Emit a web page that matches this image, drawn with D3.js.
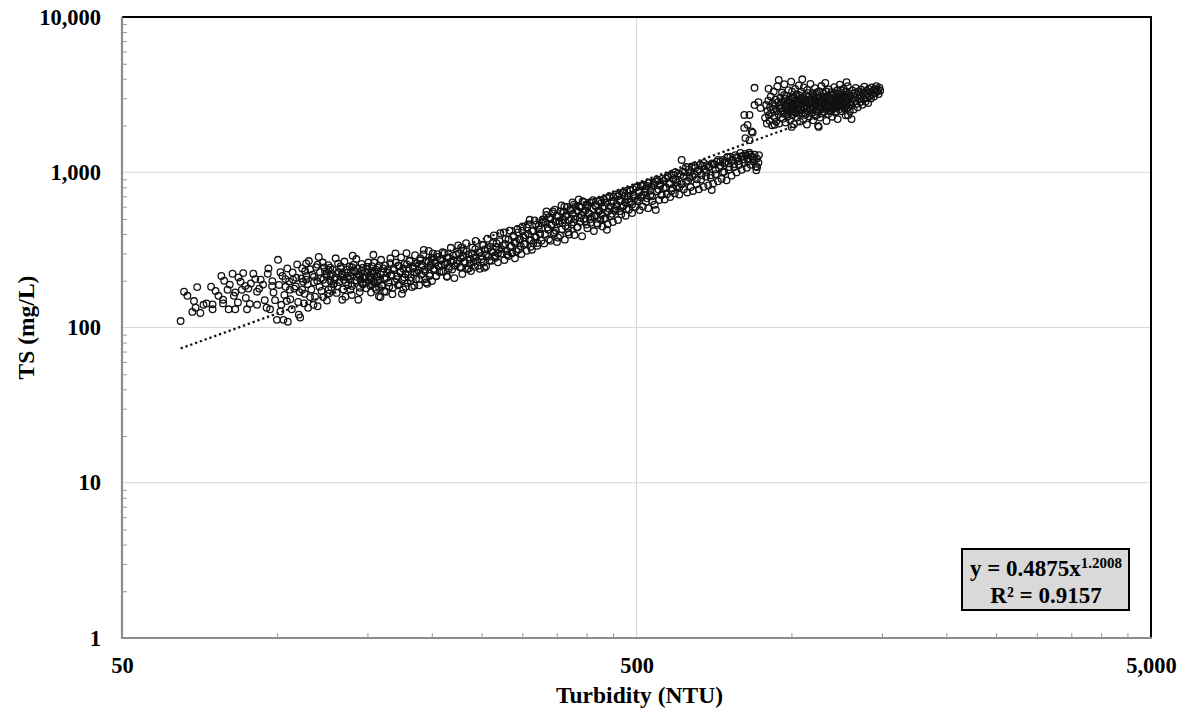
<!DOCTYPE html>
<html>
<head>
<meta charset="utf-8">
<script src="https://cdn.jsdelivr.net/npm/d3@7"></script>
<style>
  body { margin: 0; background: #fff; }
  text { font-family: "Liberation Serif", "Times New Roman", serif; font-weight: bold; fill: #000; }
</style>
</head>
<body>
<svg class="turbidity-ts-chart" width="1182" height="709"></svg>
<script>
// axis tick values (log scales)
const xTickValues = [50, 500, 5000];
const yTickValues = [1, 10, 100, 1000, 10000];
const xMinorTicks = [100, 150, 200, 250, 300, 350, 400, 450, 1000, 1500, 2000, 2500, 3000, 3500, 4000, 4500];

// power trendline shown on chart
const trendCoef = 0.4875;
const trendExp = 1.2008;
const trendLabel = 'y = 0.4875x';
const trendSup = '1.2008';
const r2Label = 'R² = 0.9157';

// [turbidity NTU, TS mg/L]
const sparseLowPoints = [
  [65,110],[66,170],[69,148],[72,140],[69.5,134],[71,124],[68.5,126],[73,143],[75,141],[75,131],
  [74.5,183],[76,172],[78.6,143],[78.6,151],[80.6,131],[83,131],[81,189],[82,222],[85,197],[86,224],
  [85.5,175],[83,168],[87,155],[87.5,131],[89,192],[90,222],[91.5,170],[91.5,140],[93,203],[94,189],
  [96,222],[95.5,134],[97,131],[98,199],[98.5,168],[100.5,273],[101.6,227],[101.6,127],[100,112],[103,112],
  [105,109],[104.5,148],[104,183],[106,175],[107.5,203],[110,146],[111,116],[112,240],[114,259],[112,175],
  [115,134],[116,157],[114,203],[120,254],[118,212],[121,183],[120,137],[123,157],[123,203],[126,236],
  [127,243],[126,175],[129,192],[132,227],[134,151],[135,203],[137,236],[139,175],[141,254],[143,212],
  [144,151],[147,243],[147,189],[150,227],[124,230],[125,215],[127,200],[128,221],[130,210],[131,185],
  [133,240],[134,218],[136,195],[137,225],[138,205],[140,185],[140,245],[142,228],[143,200],[145,215],
  [145,180],[146,232],[148,207],[149,195],[150,238],[151,215],[152,186],[153,248],[153,205],[154,222],
  [155,195],[156,236],[157,212],[158,180],[67,160],[70,182],[77,160],[79,200],[84,145],[88,178],
  [82.5,160],[84.2,210],[86.8,185],[88.6,142],[90.8,205],[92.4,178],[94.7,150],[96.3,240],[97.9,185],[99.2,150],
  [80.2,175],[78,215]
];

const lowBandPoints = [
  [101,188],[102.5,215],[103.4,162],[104.8,240],[105.6,198],[106.9,131],[107.3,226],[108.8,184],[109.5,255],[110.7,169],
  [111.6,207],[112.9,143],[113.5,231],[114.8,190],[115.4,268],[116.7,176],[117.3,219],[118.6,158],[119.2,245],[119.9,199],
  [121.3,227],[122.1,172],[122.8,262],[124.4,193],[125.1,149],[125.9,252],[127.6,181],[128.4,236],[129.3,204],[130.7,167],
  [131.5,258],[132.2,196],[133.8,223],[134.6,176],[135.3,266],[136.9,210],[137.6,188],[138.4,247],[139.8,162],[141.2,233],
  [141.9,201],[142.7,276],[144.3,219],[144.9,169],[146.1,257],[146.8,193],[148.4,229],[149.2,179],[150.6,262],[151.3,203],
  [102,140],[106.2,152],[110.3,121],[113.2,165],[117.8,140],[120.6,285],[126.4,166],[130.1,279],[135.9,158],[140.4,290],
  [103.9,205],[108.1,178],[112.4,197],[116.1,237],[121.8,208],[124.9,221],[128.9,190],[133.1,248],[138.9,214],[143.6,241],
  [147.5,212],[149.8,246],[145.3,204],[139.2,228],[132.9,212],[127.1,214],[123.6,244],[118.1,196],[114.1,215],[109.1,209]
];

const risingBandPoints = [
  [152,210],[153,190],[154,294],[155,230],[156,175],[157,200],[158,250],[159,157],[159,220],[160,185],
  [161,240],[162,205],[163,170],[164,225],[165,195],[166,260],[167,215],[168,180],[169,235],[170,300],
  [171,205],[172,250],[173,190],[174,228],[175,165],[176,240],[177,210],[178,183],[179,255],[180,220],
  [181,270],[182,200],[184,240],[185,186],[186,260],[187,225],[189,205],[190,280],[191,245],[193,316],
  [194,230],[195,195],[196,191],[197,265],[198,215],[199,250],[200,280],[201,300],[202,235],[203,260],
  [204,215],[205,285],[206,250],[208,270],[209,230],[210,305],[212,255],[214,212],[215,280],[216,240],
  [218,265],[220,290],[222,250],[224,270],[226,300],[228,327],[228,245],[230,290],[232,260],[234,310],
  [236,240],[237,275],[239,300],[241,265],[243,320],[244,285],[246,250],[248,305],[250,275],[252,340],
  [253,243],[255,295],[257,320],[259,270],[261,310],[263,350],[265,290],[267,330],[269,300],[271,360],
  [273,320],[276,410],[278,345],[280,294],[282,370],[284,330],[286,300],[288,390],[290,350],[292,310],
  [294,410],[296,365],[298,335],[300,420],[302,380],[304,345],[306,440],[308,400],[310,494],[312,365],
  [313,317],[315,420],[317,385],[319,460],[321,350],[323,430],[325,400],[327,470],
  [152.4,168],[153.1,231],[153.8,197],[154.6,262],[155.2,181],[156.3,214],[157.1,244],[157.9,159],[158.5,203],[159.4,273],
  [160.2,189],[161.1,226],[161.7,171],[162.6,251],[163.4,208],[164.1,236],[165.3,183],[166.2,279],[166.8,219],[167.7,164],
  [168.5,241],[169.4,198],[170.3,262],[171.2,214],[171.9,187],[172.8,249],[173.6,229],[174.4,283],[175.3,203],[176.1,176],
  [176.9,256],[177.8,221],[178.6,301],[179.5,194],[180.4,238],[181.2,268],[182.1,209],[183,182],[183.8,247],[184.7,227],
  [185.6,292],[186.4,205],[187.3,259],[188.2,233],[189.1,187],[190,271],[190.9,219],[191.8,252],[192.7,296],[193.6,236],
  [194.5,205],[195.5,268],[196.4,244],[197.3,311],[198.3,222],[199.2,257],[200.2,199],[201.1,281],[202.1,239],[203,263],
  [204,214],[205,297],[206,249],[207,228],[208,276],[209,255],
  [210.6,229],[211.9,301],[213.1,262],[214.2,214],[215.7,283],[216.4,247],[217.8,326],[219.1,236],[220.5,271],[221.3,208],
  [222.9,295],[224.2,259],[225.1,338],[226.8,244],[227.9,279],[229.3,221],[230.7,312],[231.6,266],[233.2,349],[234.4,238],
  [235.8,296],[237.1,257],[238.3,231],[239.9,327],[241.2,281],[242.6,246],[243.4,361],[245.1,268],[246.7,305],[247.9,239],
  [249.4,289],[250.8,341],[252.3,262],[253.5,318],[255.1,248],[256.7,373],[258.2,286],[259.6,331],[261.3,269],[262.9,304],
  [264.1,392],[265.8,281],[267.2,349],[268.9,263],[270.3,318],[271.7,405],[273.6,299],[275.1,338],[276.8,272],[278.3,371],
  [280.1,311],[281.9,289],[283.2,421],[285.1,336],[286.7,303],[288.4,384],[290.2,279],[291.8,357],[293.6,431],[295.1,318],
  [296.9,372],[298.7,297],[300.4,447],[302.2,345],[304,393],[305.9,312],[307.7,462],[309.5,366],[311.4,331],[313.3,418],
  [315.1,349],[317,489],[318.9,381],[320.8,336],[322.8,452],[324.7,402],[326.7,362],[328.6,496]
];

const upperBandPoints = [
  [330,480],[332,400],[334,530],[336,440],[338,370],[340,500],[342,455],[344,560],[346,410],[348,480],
  [350,520],[352,380],[354,470],[356,560],[358,430],[360,500],[362,600],[364,450],[366,530],[368,410],
  [370,490],[372,580],[374,460],[376,540],[378,620],[380,500],[383,440],[385,560],[387,600],[389,480],
  [391,530],[393,650],[395,500],[398,570],[400,460],[402,610],[405,540],[407,500],[409,640],[412,580],
  [414,520],[417,600],[419,470],[422,560],[425,660],[427,530],[430,590],[432,500],[435,640],[438,426],
  [440,560],[443,700],[445,600],[448,540],[451,650],[454,580],[457,620],[460,700],[463,560],[466,660],
  [469,600],[472,740],[475,640],[478,580],[481,700],[484,650],[487,760],[490,620],[493,720],[496,680],
  [500,800],[503,650],[506,740],[510,690],[513,820],[516,720],[520,780],[524,680],[528,850],[532,760],
  [536,700],[540,820],[545,572],[548,900],[552,770],[556,840],[560,720],[565,880],[570,800],[575,950],
  [580,840],[585,760],[590,900],[595,1000],[600,860],[606,800],[612,1200],[618,940],[624,1080],[630,880],
  [636,1000],[642,940],[648,1100],[655,900],[662,1040],[669,960],[676,1150],[683,1000],[690,1080],[697,920],
  [700,769],[705,1130],[712,1040],[720,1200],[728,1100],[735,1000],[742,1150],[750,1250],[758,1080],[766,1200],
  [774,1130],[782,1250],[790,1180],[800,1270],[808,1210],[816,1280],[824,1180],[832,1300],[840,1240],[848,1200],
  [855,1030],[858,1080],[865,1290],[755,1140],
  [330.8,348],[332.6,476],[334.1,560],[336.9,426],[338.3,512],[340.2,362],[341.7,462],[343.5,543],[345.1,402],[346.8,574],
  [348.4,421],[350.3,356],[352.1,523],[353.6,485],[355.2,391],[357.4,611],[358.9,471],[360.5,557],[362.8,368],[364.1,520],
  [366.3,598],[367.9,436],[369.6,397],[371.8,565],[373.2,502],[375.5,640],[377.1,476],[378.8,394],[380.6,604],[382.3,569],
  [384.4,444],[386.1,668],[388,508],[389.7,594],[391.9,387],[393.5,556],[395.2,642],[397.6,484],[399.1,619],[401.3,436],
  [403,549],[405.2,640],[407.4,473],[409.1,515],[411.5,661],[413.2,418],[415.6,614],[417.3,529],[419.8,458],[421.4,650],
  [423.7,566],[425.3,496],[427.8,637],[429.5,447],[431.9,670],[433.6,602],[435.2,505],[437.9,681],[439.4,462],[441.6,584],
  [443.2,690],[445.7,521],[447.3,650],[449.9,478],[451.4,692],[454.1,566],[455.8,720],[458.5,603],[460.2,492],[462.7,728],
  [464.4,651],[467.1,536],[469.6,740],[471.3,612],[473.8,700],[476.2,525],[478.9,761],[480.5,668],[483.3,574],[485.1,770],
  [487.6,641],[490.2,546],[492.7,779],[494.9,701],[497.4,598],[499.8,800],[502.3,664],[504.6,757],[507.2,571],[509.5,819],
  [511.8,706],[514.6,601],[516.9,830],[519.4,742],[521.7,645],[524.3,816],[526.8,587],[529.5,860],[531.9,713],[534.4,806],
  [537.2,652],[539.6,850],[542.3,618],[545.1,869],[547.8,752],[550.6,880],[553.2,663],[556.1,821],[558.9,712],[561.5,910],
  [564.4,790],[567.2,668],[570.1,912],[572.9,721],[575.8,930],[578.6,846],[581.5,692],[584.5,963],[587.4,788],[590.3,960],
  [593.3,731],[596.3,905],[599.3,812],[602.4,980],[605.4,719],[608.5,961],[611.6,838],[614.7,1010],[617.9,776],[621,1004],
  [624.2,869],[627.4,741],[630.7,1040],[633.9,921],[637.2,803],[640.5,1076],[643.8,758],[647.2,964],[650.6,1070],[654,837],
  [657.4,1012],[660.9,776],[664.4,1117],[667.9,898],[671.4,1100],[675,805],[678.6,1049],[682.2,937],[685.9,1110],[689.6,822],
  [693.3,1083],[697,956],[700.8,1140],[704.6,845],[708.4,1122],[712.2,972],[716.1,1170],[720,874],[723.9,1061],[727.9,1180],
  [731.9,906],[735.9,1200],[740,1008],[744.1,1158],[748.2,887],[752.4,1253],[756.6,1042],[760.8,1260],[765.1,951],[769.4,1192],
  [773.7,1080],[778.1,1290],[782.5,998],[786.9,1238],[791.4,1113],[795.9,1330],[800.4,1036],[805,1271],[809.6,1145],[814.3,1312],
  [819,1069],[823.7,1228],[828.5,1337],[833.3,1117],[838.1,1265],[843,1178],[847.9,1296],[852.8,1088],[857.8,1224],[862.8,1153]
];

const transitionPoints = [
  [848,3500],[903,3450],[848,2710],[863,2830],[871,2590],[810,2340],[829,2340],[810,1930],[822,2020],
  [837,1830],[814,1660],[829,1610],[841,1800]
];

const highClusterPoints = [
  [889,2240],[893,2710],[896,2060],[899,2480],[902,2890],[904,2330],[907,2150],[909,2620],[912,3080],[914,2410],
  [917,2010],[919,2780],[922,2550],[924,3310],[927,2270],[929,2680],[932,2940],[934,2120],[937,2490],[939,3570],
  [942,2830],[944,2360],[947,2060],[949,2710],[952,3020],[954,2440],[957,2590],[959,3260],[962,2210],[964,2860],
  [967,2380],[969,3690],[972,2650],[974,2090],[977,3110],[979,2510],[982,2780],[984,2290],[987,3380],[989,2620],
  [992,2950],[994,2170],[997,2460],[999,3830],[1002,2740],[1004,2330],[1007,3050],[1009,2580],[1012,2040],[1014,2890],
  [1017,3440],[1019,2410],[1022,2700],[1024,3180],[1027,2250],[1029,2960],[1032,2530],[1034,3620],[1037,2820],[1039,2120],
  [1042,2640],[1044,3300],[1047,2390],[1049,3010],[1052,2760],[1054,2200],[1057,3520],[1059,2580],[1062,2910],[1064,2340],
  [1067,3140],[1069,2690],[1072,2030],[1074,3390],[1077,2480],[1079,2850],[1082,3060],[1084,2290],[1087,2620],[1089,3710],
  [1092,2930],[1094,2410],[1097,2780],[1099,3230],[1102,2160],[1104,2560],[1107,3040],[1109,2870],[1112,3480],[1114,2320],
  [1117,2700],[1119,3150],[1122,2470],[1124,2990],[1127,1990],[1129,2630],[1132,3330],[1134,2790],[1137,2250],[1139,3060],
  [1142,2540],[1144,3590],[1147,2900],[1149,2390],[1152,2720],[1155,3210],[1158,2450],[1161,2980],[1164,3760],[1167,2600],
  [1170,2140],[1173,3100],[1176,2830],[1179,2370],[1182,3420],[1185,2700],[1188,3010],[1191,2500],[1194,2910],[1197,3280],
  [1200,2280],[1203,2780],[1206,3150],[1209,2610],[1212,3530],[1215,2930],[1218,2420],[1221,3070],[1224,2720],[1227,3360],
  [1230,2200],[1233,2870],[1236,3190],[1239,2550],[1242,3660],[1245,2990],[1248,2680],[1251,3250],[1254,2470],[1257,3040],
  [1260,2790],[1263,3450],[1266,2590],[1269,3140],[1272,2890],[1275,2330],[1278,3320],[1281,2720],[1284,3030],[1287,3580],
  [1290,2620],[1293,2950],[1296,3210],[1299,2460],[1302,2830],[1306,3110],[1310,2690],[1314,3370],[1318,2960],[1322,2540],
  [1326,3240],[1330,2870],[1334,3490],[1338,2760],[1342,3060],[1346,2620],[1350,3310],[1354,2980],[1358,3170],[1362,2830],
  [1366,3410],[1370,3060],[1374,2720],[1378,3250],[1382,2950],[1386,3560],[1390,3130],[1394,2860],[1398,3340],[1402,3010],
  [1406,3200],[1410,2790],[1414,3440],[1418,3120],[1423,3290],[1428,2990],[1433,3520],[1438,3180],[1443,3370],[1448,3070],
  [1453,3450],[1458,3250],[1463,3580],[1468,3310],[1473,3400],[1478,3190],[1483,3500],[1488,3350],
  [945,3930],[1050,3970],[1280,3800],[1130,1960],[1001,1960],[928,2020],[1309,2200]
];

const clusterCorePoints = [
  [951,2560],[958,2820],[965,2500],[971,2970],[978,2700],[985,2430],[991,2880],[998,2610],[1005,2990],[1011,2470],
  [1018,2810],[1025,2560],[1031,2730],[1038,3120],[1045,2500],[1051,2930],[1058,2660],[1065,2400],[1071,2790],[1078,3230],
  [1085,2540],[1091,2850],[1098,2640],[1105,3120],[1111,2730],[1118,2480],[1125,2870],[1131,3030],[1138,2610],[1145,2790],
  [1151,3080],[1157,2570],[1163,2800],[1169,3310],[1175,2650],[1181,2960],[1187,2480],[1193,3160],[1199,2710],[1205,2920],
  [1211,2570],[1217,3230],[1223,2840],[1229,2680],[1235,3020],[1241,2790],[1247,3390],[1253,2900],[1259,2640],[1265,3080],
  [1271,2760],[1277,3160],[1283,2870],[1289,2330],[1295,3010],[1301,2700],[968,3150],[1003,3300],[1041,2960],[1083,2920],
  [1121,3260],[1166,2720],[1214,2760],[1262,2980],[980,2350],[1015,2660],[1060,2850],[1100,2430],[1140,2840],[1180,2580],
  [1220,2470],[1260,3100],[995,2790],[1035,2380],[1075,2620],[1115,2930],[1160,3020],[1196,2620],[1238,2910],[1280,2580]
];

const allPoints = sparseLowPoints.concat(lowBandPoints, risingBandPoints, upperBandPoints,
  transitionPoints, highClusterPoints, clusterCorePoints);

const plot = { left: 122, right: 1151, top: 17, bottom: 638 };

const x = d3.scaleLog().domain([50, 5000]).range([plot.left, plot.right]);
const y = d3.scaleLog().domain([1, 10000]).range([plot.bottom, plot.top]);

function createChart() {
  const svg = d3.select('.turbidity-ts-chart');
  const fmt = d3.format(',');

  // gridlines
  svg.append('g')
    .selectAll('line')
    .data(yTickValues.slice(1, -1))
    .enter()
    .append('line')
    .attr('x1', plot.left).attr('x2', plot.right)
    .attr('y1', d => y(d)).attr('y2', d => y(d))
    .attr('stroke', '#d9d9d9').attr('stroke-width', 1.2);
  svg.append('g')
    .selectAll('line')
    .data(xTickValues.slice(1, -1))
    .enter()
    .append('line')
    .attr('y1', plot.top).attr('y2', plot.bottom)
    .attr('x1', d => x(d)).attr('x2', d => x(d))
    .attr('stroke', '#d9d9d9').attr('stroke-width', 1.2);

  // minor ticks, pointing inward
  const yMinor = y.ticks().filter(d => !yTickValues.includes(d));
  svg.append('g')
    .attr('transform', `translate(${plot.left},0)`)
    .call(d3.axisLeft(y).tickValues(yMinor).tickSize(-5).tickFormat(''))
    .call(g => g.select('.domain').remove())
    .selectAll('line').attr('stroke', '#999');
  svg.append('g')
    .attr('transform', `translate(0,${plot.bottom})`)
    .call(d3.axisBottom(x).tickValues(xMinorTicks).tickSize(-5).tickFormat(''))
    .call(g => g.select('.domain').remove())
    .selectAll('line').attr('stroke', '#999');

  // frame: black top/right, grey axis lines left/bottom
  svg.append('line')
    .attr('x1', plot.left).attr('x2', plot.right + 1)
    .attr('y1', plot.top).attr('y2', plot.top)
    .attr('stroke', '#000').attr('stroke-width', 2);
  svg.append('line')
    .attr('x1', plot.right).attr('x2', plot.right)
    .attr('y1', plot.top).attr('y2', plot.bottom)
    .attr('stroke', '#000').attr('stroke-width', 2);
  svg.append('line')
    .attr('x1', plot.left).attr('x2', plot.left)
    .attr('y1', plot.top).attr('y2', plot.bottom + 1)
    .attr('stroke', '#8c8c8c').attr('stroke-width', 2.2);
  svg.append('line')
    .attr('x1', plot.left - 1).attr('x2', plot.right + 1)
    .attr('y1', plot.bottom).attr('y2', plot.bottom)
    .attr('stroke', '#8c8c8c').attr('stroke-width', 2.2);

  // major tick labels
  svg.append('g')
    .attr('transform', `translate(${plot.left},0)`)
    .call(d3.axisLeft(y).tickValues(yTickValues).tickSize(0).tickPadding(21).tickFormat(fmt))
    .call(g => g.select('.domain').remove())
    .selectAll('text')
    .style('font-family', '"Liberation Serif", serif')
    .style('font-weight', 'bold')
    .style('font-size', '22.5px')
    .attr('fill', '#000');
  svg.append('g')
    .attr('transform', `translate(0,${plot.bottom})`)
    .call(d3.axisBottom(x).tickValues(xTickValues).tickSize(0).tickPadding(19).tickFormat(fmt))
    .call(g => g.select('.domain').remove())
    .selectAll('text')
    .style('font-family', '"Liberation Serif", serif')
    .style('font-weight', 'bold')
    .style('font-size', '22.5px')
    .attr('fill', '#000');

  // axis titles
  svg.append('text')
    .attr('x', x(500) + 3).attr('y', 703)
    .attr('text-anchor', 'middle')
    .style('font-size', '23.5px')
    .text('Turbidity (NTU)');
  svg.append('text')
    .attr('transform', `translate(34,${y(100)}) rotate(-90)`)
    .attr('text-anchor', 'middle')
    .style('font-size', '23.5px')
    .text('TS (mg/L)');

  // data points
  svg.append('g')
    .selectAll('circle')
    .data(allPoints)
    .enter()
    .append('circle')
    .attr('cx', d => x(d[0]))
    .attr('cy', d => y(d[1]))
    .attr('r', 3.3)
    .attr('fill', 'none')
    .attr('stroke', '#111')
    .attr('stroke-width', 1.3);

  // dotted power trendline
  const xExtent = d3.extent(allPoints, d => d[0]);
  const trendData = xExtent.map(t => [t, trendCoef * Math.pow(t, trendExp)]);
  svg.append('path')
    .datum(trendData)
    .attr('d', d3.line().x(d => x(d[0])).y(d => y(d[1])))
    .attr('fill', 'none')
    .attr('stroke', '#111')
    .attr('stroke-width', 2.3)
    .attr('stroke-dasharray', '2.3 2.8');

  // equation box
  const box = svg.append('g');
  box.append('rect')
    .attr('x', 962).attr('y', 549)
    .attr('width', 167).attr('height', 61)
    .attr('fill', '#d9d9d9')
    .attr('stroke', '#000')
    .attr('stroke-width', 2);
  const eq = box.append('text')
    .attr('x', 1046).attr('y', 576)
    .attr('text-anchor', 'middle')
    .style('font-size', '23px');
  eq.append('tspan').text(trendLabel);
  eq.append('tspan')
    .attr('dy', -8)
    .style('font-size', '15px')
    .text(trendSup);
  box.append('text')
    .attr('x', 1046).attr('y', 603)
    .attr('text-anchor', 'middle')
    .style('font-size', '23px')
    .text(r2Label);
}

createChart();
</script>
</body>
</html>
